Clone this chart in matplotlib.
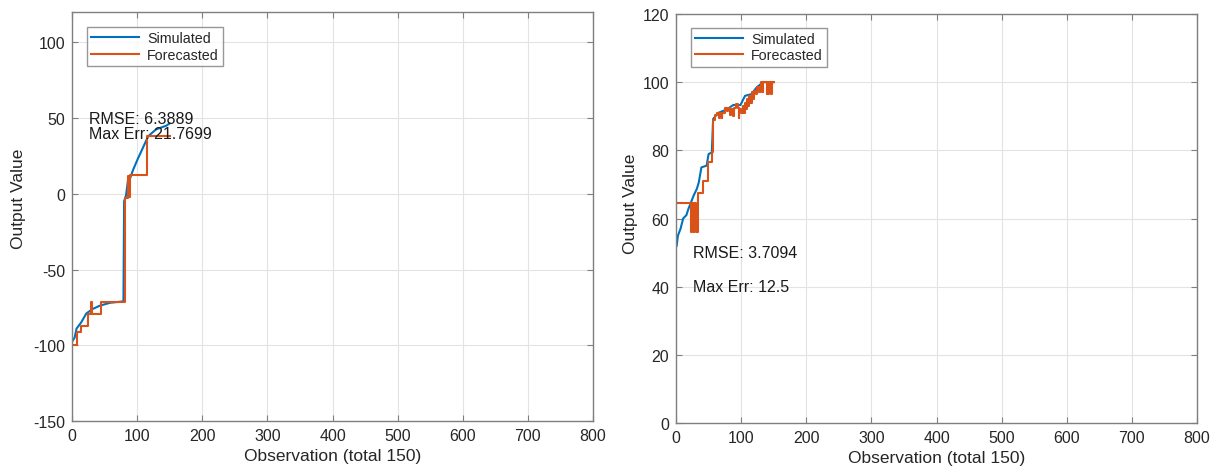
import matplotlib
matplotlib.use('Agg')
import matplotlib.pyplot as plt

plt.rcParams['font.family'] = ['Liberation Sans', 'DejaVu Sans']
plt.rcParams['axes.unicode_minus'] = False

# left chart: simulated (read points) and forecasted (step levels)
left_sim_x = [1, 4, 7, 14, 22, 32, 42, 58, 79, 80, 83, 86, 88, 89, 94, 101, 109, 117, 129, 145, 150]
left_sim_y = [-97, -95, -89, -85, -79, -76, -74, -72, -71, -5, -1, 9, 2, 10, 16, 23, 30.5, 38, 42.5, 45, 46.5]
left_fc_x = [1, 8, 14, 24, 29, 30, 44, 81, 86, 87, 89, 115, 150]
left_fc_y = [-100, -91.5, -87, -79.5, -71.5, -79.5, -71.5, -3, 12, -2, 12.5, 38, 38]

# right chart
right_sim_x = [1, 3, 7, 11, 16, 19, 23, 27, 32, 35, 39, 47, 50, 55, 57, 65, 78, 88, 99,
               106, 116, 124, 134, 150]
right_sim_y = [52, 55, 57, 60, 61, 62.8, 64.7, 66.7, 68.7, 70.6, 75, 75.5, 78.9, 79.4, 89.2,
               91, 92, 93.3, 93.3, 96, 96.5, 98.5, 100, 100]
right_fc_x = [1, 23, 24, 27, 28, 31, 33, 34, 42, 49, 55, 57, 60, 63, 66, 67, 70, 71, 75, 78,
              80, 83, 85, 88, 89, 92, 95, 96, 97, 100, 103, 105, 106, 108, 109, 111, 112, 114,
              116, 118, 120, 123, 125, 128, 130, 133, 134, 139, 140, 142, 143, 146, 147, 150]
right_fc_y = [64.5, 56, 64.5, 56, 64.5, 56, 56, 67.5, 71, 76.5, 79.4, 89, 90.5, 91, 89.5, 91,
              89.5, 91, 92.5, 91.5, 92.5, 90.5, 92, 90, 92.5, 93.5, 92.5, 89.5, 92, 91, 93,
              91, 94, 92, 95, 93, 96, 94, 97, 95, 97.5, 96.5, 98.5, 97, 100, 97, 100, 96.5,
              100, 96.5, 100, 96.5, 100, 100]

left_stats = ['RMSE: 6.3889', 'Max Err: 21.7699']
right_stats = ['RMSE: 3.7094', 'Max Err: 12.5']

blue = '#0072BD'
orange = '#D95319'
axis_gray = '#7f7f7f'
txt = '#262626'

fig = plt.figure(figsize=(12.27, 4.77), dpi=100)
ax1 = fig.add_axes([72/1227, 55/477, 521/1227, 409/477])
ax2 = fig.add_axes([676/1227, 53/477, 521/1227, 409/477])


def style(ax, yticks):
    ax.set_xlim(0, 800)
    ax.set_xticks(range(0, 801, 100))
    ax.set_yticks(yticks)
    ax.grid(True, color='#e3e3e3', linewidth=0.8)
    ax.set_axisbelow(True)
    for s in ax.spines.values():
        s.set_color(axis_gray)
        s.set_linewidth(1.0)
    ax.tick_params(direction='in', top=True, right=True, length=4, width=0.8,
                   color=axis_gray, labelcolor=txt, labelsize=11.5, pad=5)
    ax.set_xlabel('Observation (total 150)', fontsize=12.5, color=txt, labelpad=4)
    ax.set_ylabel('Output Value', fontsize=12.5, color=txt)


ax1.plot(left_sim_x, left_sim_y, color=blue, lw=1.5, label='Simulated')
ax1.plot(left_fc_x, left_fc_y, color=orange, lw=1.5, drawstyle='steps-post', label='Forecasted')
style(ax1, range(-150, 101, 50))
ax1.set_ylim(-150, 120)
ax1.yaxis.set_label_coords(-0.088, 0.545)
ax1.text(26, 50, left_stats[0], fontsize=11.5, color='#1a1a1a', va='center')
ax1.text(26, 39.5, left_stats[1], fontsize=11.5, color='#1a1a1a', va='center')

ax2.plot(right_sim_x, right_sim_y, color=blue, lw=1.5, label='Simulated')
ax2.plot(right_fc_x, right_fc_y, color=orange, lw=1.5, drawstyle='steps-post', label='Forecasted')
style(ax2, range(0, 121, 20))
ax2.set_ylim(0, 120)
ax2.yaxis.set_label_coords(-0.073, 0.538)
ax2.text(26, 50, right_stats[0], fontsize=11.5, color='#1a1a1a', va='center')
ax2.text(26, 40, right_stats[1], fontsize=11.5, color='#1a1a1a', va='center')

for ax, top in ((ax1, 0.963), (ax2, 0.966)):
    leg = ax.legend(loc='upper left', bbox_to_anchor=(0.029, top), borderaxespad=0,
                    fontsize=10.3, frameon=True, fancybox=False, handlelength=3.3,
                    handletextpad=0.6, borderpad=0.3, labelspacing=0.15)
    leg.get_frame().set_edgecolor(axis_gray)
    leg.get_frame().set_linewidth(1.0)
    for t in leg.get_texts():
        t.set_color(txt)

fig.savefig('out.png', dpi=100)
